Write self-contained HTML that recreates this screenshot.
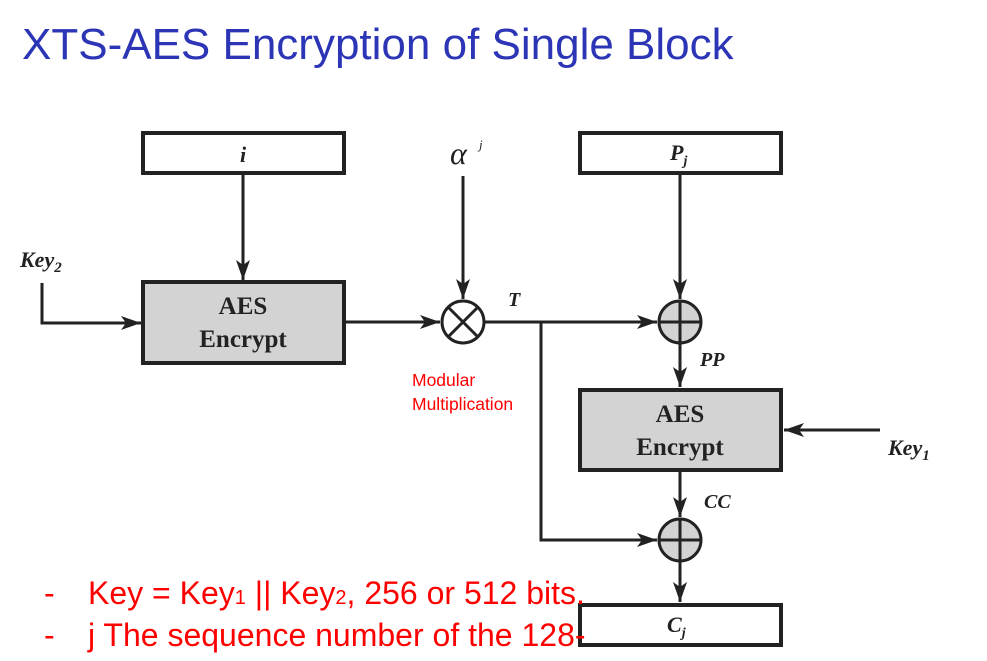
<!DOCTYPE html>
<html><head><style>
body{margin:0;width:987px;height:661px;background:#fff;position:relative;overflow:hidden;font-family:"Liberation Sans",sans-serif}
.t{position:absolute;white-space:nowrap}
</style></head><body>
<div class="t" style="left:22px;top:20px;font-size:44px;color:#2b35b5;">XTS-AES Encryption of Single Block</div>
<svg width="987" height="661" style="position:absolute;left:0;top:0">
<defs>
<marker id="b" markerWidth="22" markerHeight="14" refX="20" refY="7" orient="auto" markerUnits="userSpaceOnUse"><path d="M0,0 L20,7 L0,14 L5,7z" fill="#222"/></marker></defs>
<g stroke="#222" stroke-width="3" fill="none">
<rect x="143" y="133" width="201" height="40" fill="#fff" stroke-width="4"/>
<rect x="143" y="282" width="201" height="81" fill="#d3d3d3" stroke-width="4"/>
<rect x="580" y="133" width="201" height="40" fill="#fff" stroke-width="4"/>
<rect x="580" y="390" width="201" height="80" fill="#d3d3d3" stroke-width="4"/>
<rect x="580" y="605" width="201" height="40" fill="#fff" stroke-width="4"/>
<line x1="243" y1="173" x2="243" y2="280" marker-end="url(#b)"/>
<polyline points="42,283 42,323 141,323" marker-end="url(#b)"/>
<line x1="344" y1="322" x2="440" y2="322" marker-end="url(#b)"/>
<line x1="463" y1="176" x2="463" y2="299" marker-end="url(#b)"/>
<circle cx="463" cy="322" r="21" fill="#fff"/>
<line x1="448" y1="307" x2="478" y2="337"/><line x1="478" y1="307" x2="448" y2="337"/>
<line x1="484" y1="322" x2="657" y2="322" marker-end="url(#b)"/>
<polyline points="541,322 541,540 657,540" marker-end="url(#b)"/>
<line x1="680" y1="173" x2="680" y2="299" marker-end="url(#b)"/>
<circle cx="680" cy="322" r="21" fill="#d3d3d3"/>
<line x1="659" y1="322" x2="701" y2="322"/><line x1="680" y1="301" x2="680" y2="343"/>
<line x1="680" y1="343" x2="680" y2="387" marker-end="url(#b)"/>
<line x1="880" y1="430" x2="784" y2="430" marker-end="url(#b)"/>
<line x1="680" y1="470" x2="680" y2="517" marker-end="url(#b)"/>
<circle cx="680" cy="540" r="21" fill="#d3d3d3"/>
<line x1="659" y1="540" x2="701" y2="540"/><line x1="680" y1="519" x2="680" y2="561"/>
<line x1="680" y1="561" x2="680" y2="602" marker-end="url(#b)"/>
</g>
<g font-family="Liberation Serif,serif" font-weight="bold" fill="#222">
<text x="243" y="162" font-size="22" font-style="italic" text-anchor="middle">i</text>
<text x="243" y="314" font-size="25" text-anchor="middle">AES</text>
<text x="243" y="347" font-size="25" text-anchor="middle">Encrypt</text>
<text x="680" y="422" font-size="25" text-anchor="middle">AES</text>
<text x="680" y="455" font-size="25" text-anchor="middle">Encrypt</text>
<text x="20" y="267" font-size="22" font-style="italic">Key<tspan font-size="15" dy="5">2</tspan></text>
<text x="888" y="455" font-size="22" font-style="italic">Key<tspan font-size="15" dy="5">1</tspan></text>
<text x="508" y="306" font-size="20" font-style="italic">T</text>
<text x="700" y="366" font-size="20" font-style="italic">PP</text>
<text x="704" y="508" font-size="20" font-style="italic">CC</text>
<text x="670" y="160" font-size="22" font-style="italic">P<tspan font-size="14" dy="5">j</tspan></text>
<text x="667" y="632" font-size="22" font-style="italic">C<tspan font-size="14" dy="5">j</tspan></text>
</g>
<text x="450" y="164" font-family="Liberation Serif,serif" font-style="italic" font-size="32" fill="#222">α</text>
<text x="479" y="149" font-family="Liberation Serif,serif" font-style="italic" font-size="13" fill="#222">j</text>
</svg>
<div class="t" style="left:412px;top:368px;font-size:17.5px;color:#f00;line-height:24px">Modular<br>Multiplication</div>
<div class="t" style="left:44px;top:575px;font-size:32px;color:#f00;"><span style="display:inline-block;width:44px">-</span>Key = Key<span style="font-size:20px">1</span> || Key<span style="font-size:20px">2</span>, 256 or 512 bits.</div>
<div class="t" style="left:44px;top:617px;font-size:32px;color:#f00;"><span style="display:inline-block;width:44px">-</span>j The sequence number of the 128-</div>
</body></html>
